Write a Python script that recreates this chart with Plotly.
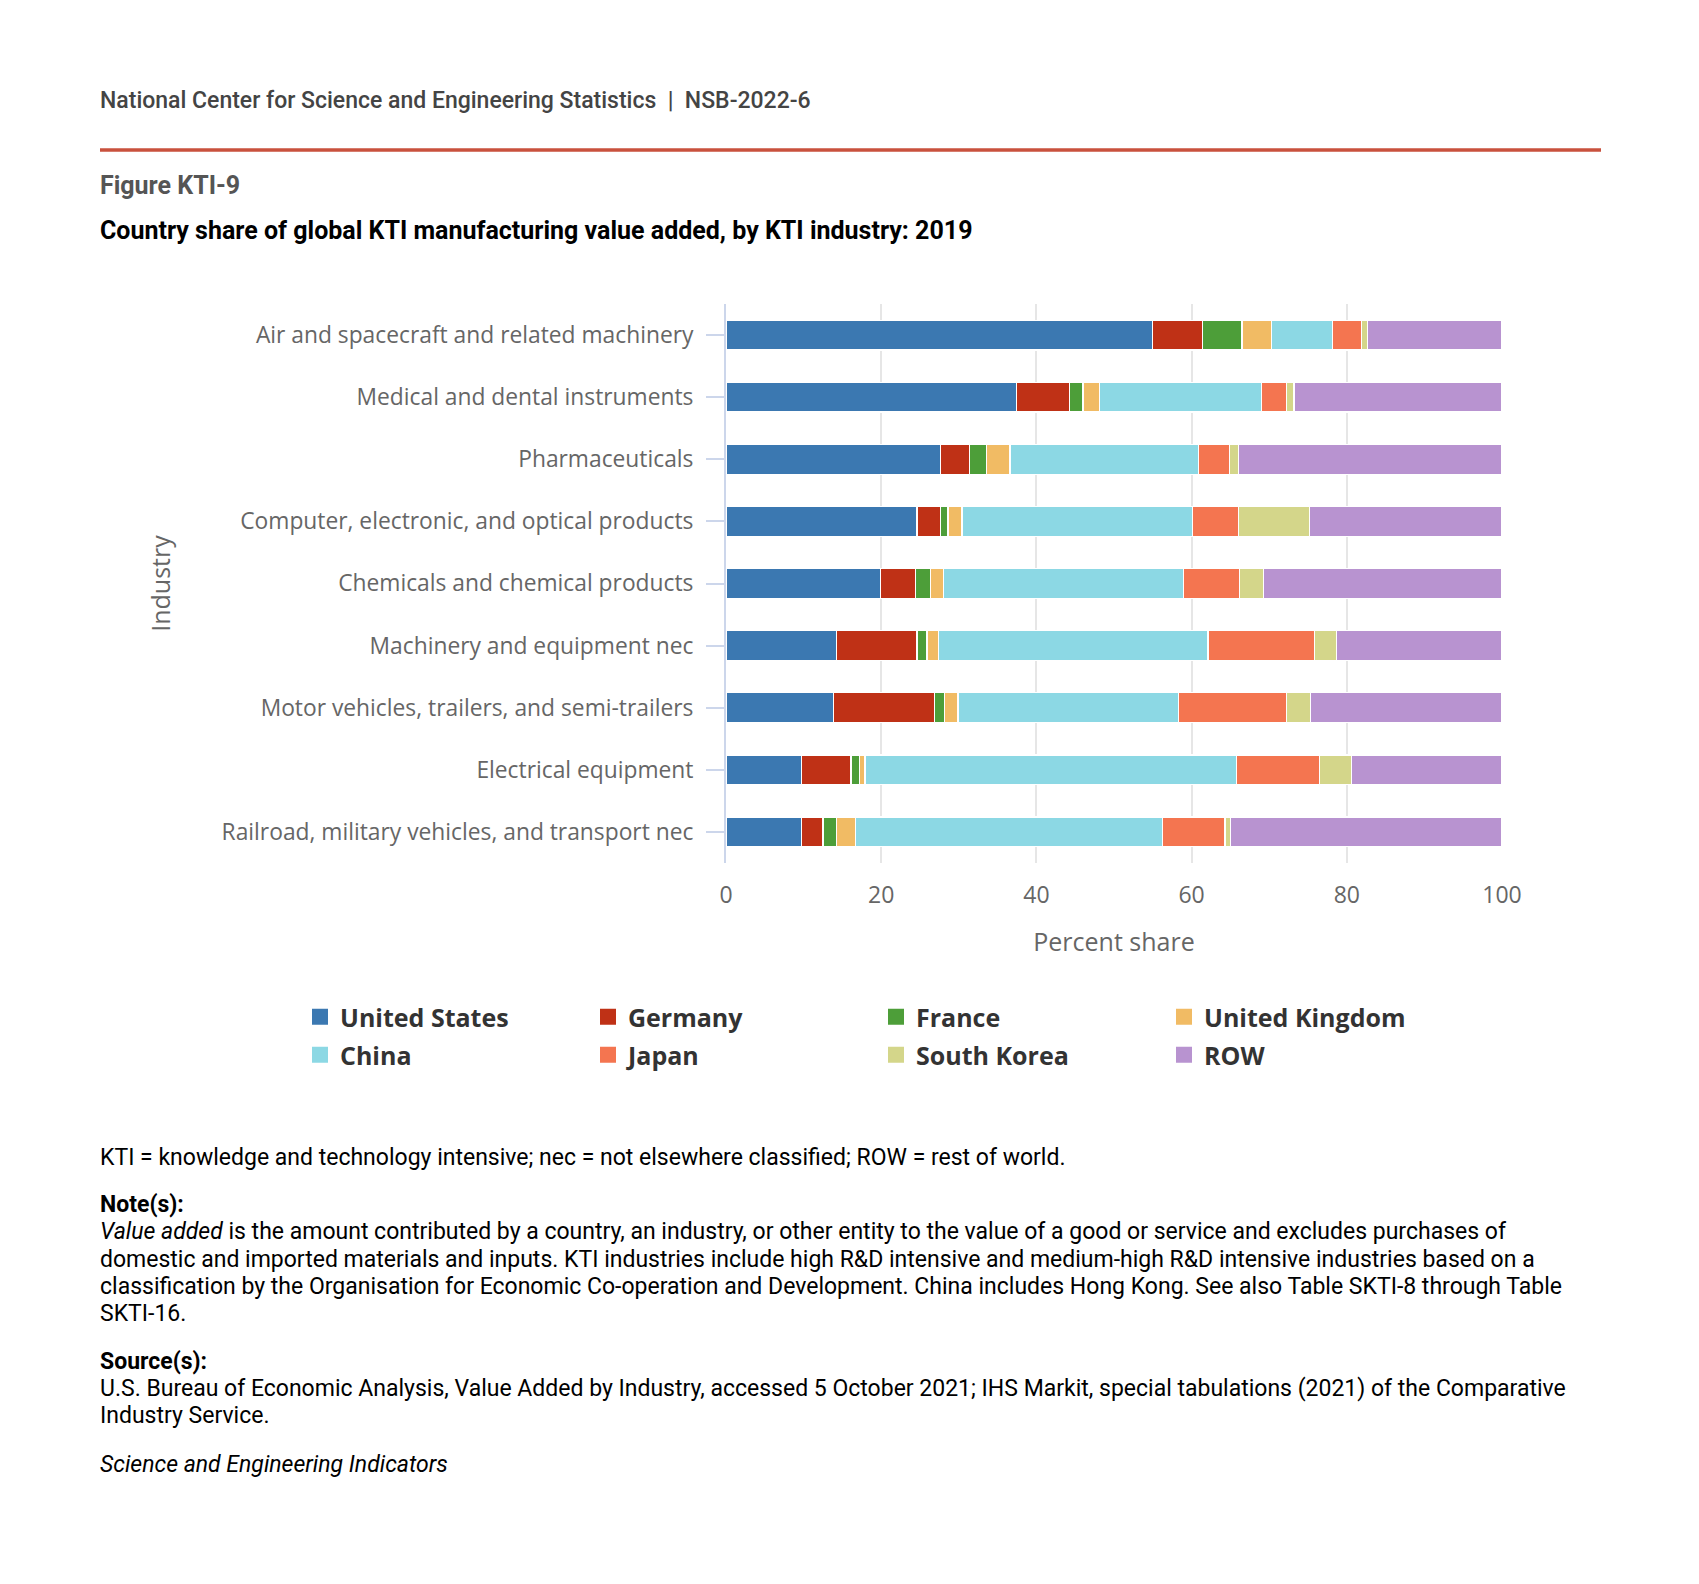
import plotly.graph_objects as go

W, H = 1699, 1584
ML, MR, MT, MB = 726, 197, 304, 721

industries = [
    "Air and spacecraft and related machinery",
    "Medical and dental instruments",
    "Pharmaceuticals",
    "Computer, electronic, and optical products",
    "Chemicals and chemical products",
    "Machinery and equipment nec",
    "Motor vehicles, trailers, and semi-trailers",
    "Electrical equipment",
    "Railroad, military vehicles, and transport nec",
]

countries = ["United States", "Germany", "France", "United Kingdom",
             "China", "Japan", "South Korea", "ROW"]
colors = ["#3b78b1", "#bf3116", "#4d9e39", "#f1bb64",
          "#8cd8e4", "#f47550", "#d4d68a", "#b893d0"]

united_states = [55.0, 37.4, 27.6, 24.6, 19.9, 14.2, 13.9, 9.7, 9.7]
germany = [6.4, 6.9, 3.8, 3.0, 4.5, 10.4, 13.0, 6.4, 2.8]
france = [5.1, 1.7, 2.2, 1.0, 2.0, 1.3, 1.3, 1.1, 1.7]
united_kingdom = [3.8, 2.1, 3.0, 1.8, 1.6, 1.5, 1.7, 0.7, 2.5]
china = [7.9, 20.9, 24.3, 29.7, 31.0, 34.7, 28.4, 47.9, 39.6]
japan = [3.7, 3.2, 4.0, 5.9, 7.2, 13.7, 13.9, 10.7, 8.0]
south_korea = [0.8, 1.0, 1.1, 9.2, 3.1, 2.9, 3.1, 4.1, 0.7]
row = [17.3, 26.8, 34.0, 24.8, 30.7, 21.3, 24.7, 19.4, 35.0]

series = [united_states, germany, france, united_kingdom,
          china, japan, south_korea, row]

x_ticks = [0, 20, 40, 60, 80, 100]

PW = W - ML - MR
PH = H - MT - MB


def px_x(p):
    return (p - ML) / PW


def px_y(p):
    return (H - MB - p) / PH


fig = go.Figure()
for i, (name, vals, col) in enumerate(zip(countries, series, colors)):
    fig.add_trace(go.Bar(
        y=industries, x=vals, name=name, orientation="h",
        marker=dict(color=col, line=dict(color="white", width=1.2)),
        legendgroup=name, showlegend=False,
    ))
    fig.add_trace(go.Scatter(
        x=[None], y=[None], mode="markers", name=name,
        marker=dict(symbol="square", size=16, color=col),
        legendgroup=name, showlegend=True,
        legend="legend" if i < 4 else "legend2",
    ))

legend_common = dict(
    orientation="h", xanchor="left", yanchor="middle",
    entrywidth=243, entrywidthmode="pixels",
    font=dict(family="Open Sans", size=25, color="#333333", weight="bold"),
    bgcolor="rgba(0,0,0,0)", itemsizing="trace", tracegroupgap=0,
)

fig.update_layout(
    width=W, height=H,
    margin=dict(l=ML, r=MR, t=MT, b=MB, autoexpand=False),
    paper_bgcolor="white", plot_bgcolor="white",
    barmode="stack", bargap=0.52,
    font=dict(family="Open Sans", color="#666666"),
    legend=dict(x=px_x(300), y=px_y(1017), **legend_common),
    legend2=dict(x=px_x(300), y=px_y(1055), **legend_common),
    xaxis=dict(
        range=[0, 100], tickvals=x_ticks, showgrid=True,
        gridcolor="#e6e6e6", gridwidth=2, zeroline=False,
        showline=False, ticks="", ticklabelstandoff=16,
        tickfont=dict(family="Open Sans", size=23, color="#666666"),
        title=dict(text="Percent share", standoff=24,
                   font=dict(family="Open Sans", size=25, color="#666666")),
        automargin=True, fixedrange=True,
    ),
    yaxis=dict(
        autorange="reversed", showgrid=False, zeroline=False,
        showline=True, linecolor="#ccd6eb", linewidth=2,
        ticks="outside", ticklen=18, tickcolor="#ccd6eb", tickwidth=2,
        ticklabelstandoff=8,
        tickfont=dict(family="Open Sans", size=22.8, color="#666666"),
        title=dict(text="Industry", standoff=44,
                   font=dict(family="Open Sans", size=25, color="#666666")),
        automargin=True, fixedrange=True,
    ),
)

# header rule
fig.add_shape(type="line", xref="paper", yref="paper",
              x0=px_x(100), x1=px_x(1601), y0=px_y(150), y1=px_y(150),
              line=dict(color="#c9513d", width=3.5))

ROBOTO = "Roboto"


def note(text, y, size=23, color="#000000", weight="normal"):
    fig.add_annotation(
        text=text, xref="paper", yref="paper", x=px_x(98), y=px_y(y),
        xanchor="left", yanchor="middle", showarrow=False, align="left",
        font=dict(family=ROBOTO, size=size, color=color, weight=weight),
    )


note("National Center for Science and Engineering Statistics&nbsp;&nbsp;|&nbsp;&nbsp;NSB-2022-6",
     100, size=23, color="#444444", weight=500)
note("<b>Figure KTI-9</b>", 186, size=25, color="#555555")
note("<b>Country share of global KTI manufacturing value added, by KTI industry: 2019</b>",
     230, size=25, color="#000000")

note("KTI = knowledge and technology intensive; nec = not elsewhere classified; ROW = rest of world.", 1157)
note("<b>Note(s):</b>", 1204)
note("<i>Value added</i> is the amount contributed by a country, an industry, or other entity to the value of a good or service and excludes purchases of", 1231)
note("domestic and imported materials and inputs. KTI industries include high R&D intensive and medium-high R&D intensive industries based on a", 1259)
note("classification by the Organisation for Economic Co-operation and Development. China includes Hong Kong. See also Table SKTI-8 through Table", 1286)
note("SKTI-16.", 1313)
note("<b>Source(s):</b>", 1361)
note("U.S. Bureau of Economic Analysis, Value Added by Industry, accessed 5 October 2021; IHS Markit, special tabulations (2021) of the Comparative", 1388)
note("Industry Service.", 1415)
note("<i>Science and Engineering Indicators</i>", 1464)

fig.write_html("out.html", config={"displayModeBar": False},
               post_script="document.body.style.margin='0';")
